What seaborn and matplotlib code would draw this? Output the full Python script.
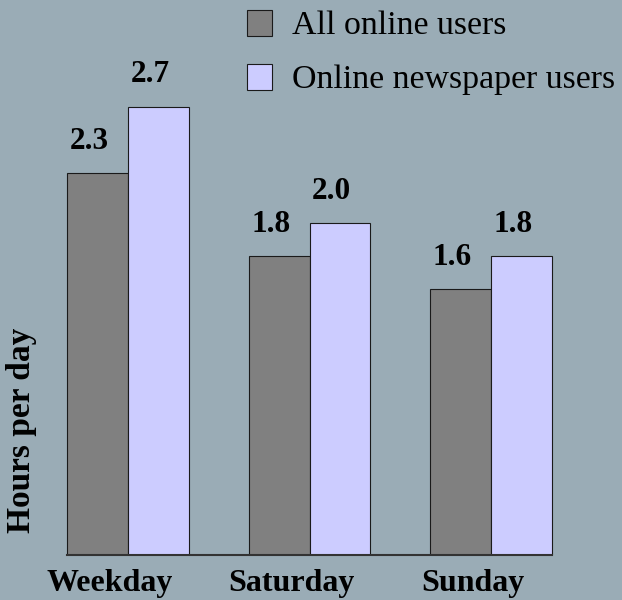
import matplotlib
matplotlib.use("Agg")
import matplotlib.pyplot as plt
import matplotlib.transforms as mtransforms
import pandas as pd
import seaborn as sns

days = ["Weekday", "Saturday", "Sunday"]
groups = ["All online users", "Online newspaper users"]
all_users = [2.3, 1.8, 1.6]
newspaper_users = [2.7, 2.0, 1.8]

df = pd.DataFrame({
    "day": days * 2,
    "group": [groups[0]] * 3 + [groups[1]] * 3,
    "hours": all_users + newspaper_users,
})

bg = "#9aacb6"
sns.set_theme(style="white")
plt.rcParams["font.family"] = ["Liberation Serif", "DejaVu Serif"]
plt.rcParams["text.color"] = "black"

fig = plt.figure(figsize=(6.22, 6.0), dpi=100, facecolor=bg)
ax = fig.add_axes([0.0599, 0.075, 0.8754, 0.83], facecolor=bg)

sns.barplot(data=df, x="day", y="hours", hue="group", order=days, hue_order=groups,
            palette=["#808080", "#ccccff"], width=0.67, edgecolor="#1a1a1a",
            linewidth=0.8, saturation=1, ax=ax)

ax.set_xlim(-0.5, 2.5)
ax.set_ylim(0, 3)
ax.set_xlabel("")
ax.set_ylabel("")
ax.set_yticks([])

for s in ["top", "right", "left"]:
    ax.spines[s].set_visible(False)
bars = ax.patches
left = min(p.get_x() for p in bars)
right = max(p.get_x() + p.get_width() for p in bars)
ax.spines["bottom"].set_bounds(left, right)
ax.spines["bottom"].set_color("#333333")
ax.spines["bottom"].set_linewidth(1.5)

# value labels, slightly left of bar centre like the original
for cont in ax.containers:
    for bar, val in zip(cont, cont.datavalues):
        ax.annotate(f"{val:.1f}", (bar.get_x() + bar.get_width() / 2, bar.get_height()),
                    xytext=(-6, 17.5), textcoords="offset points", ha="center", va="baseline",
                    fontsize=22.5, fontweight="bold", color="black")

ax.tick_params(axis="x", length=0, pad=10)
offset = mtransforms.ScaledTranslation(-0.185, 0, fig.dpi_scale_trans)
for lbl in ax.get_xticklabels():
    lbl.set_fontsize(23)
    lbl.set_fontweight("bold")
    lbl.set_color("black")
    lbl.set_transform(lbl.get_transform() + offset)

fig.text(0.035, 0.2825, "Hours per day", rotation=90, ha="center", va="center",
         fontsize=24, fontweight="bold", color="black")

handles, labels = ax.get_legend_handles_labels()
leg = ax.legend(handles, labels, loc="upper left", bbox_to_anchor=(0.397, 0.984),
                bbox_transform=fig.transFigure, frameon=False, fontsize=24.4,
                handlelength=0.74, handleheight=0.8, handletextpad=0.58,
                labelspacing=0.66, borderpad=0, borderaxespad=0)
for t in leg.get_texts():
    t.set_color("black")

fig.savefig("out.png", dpi=100, facecolor=bg)
